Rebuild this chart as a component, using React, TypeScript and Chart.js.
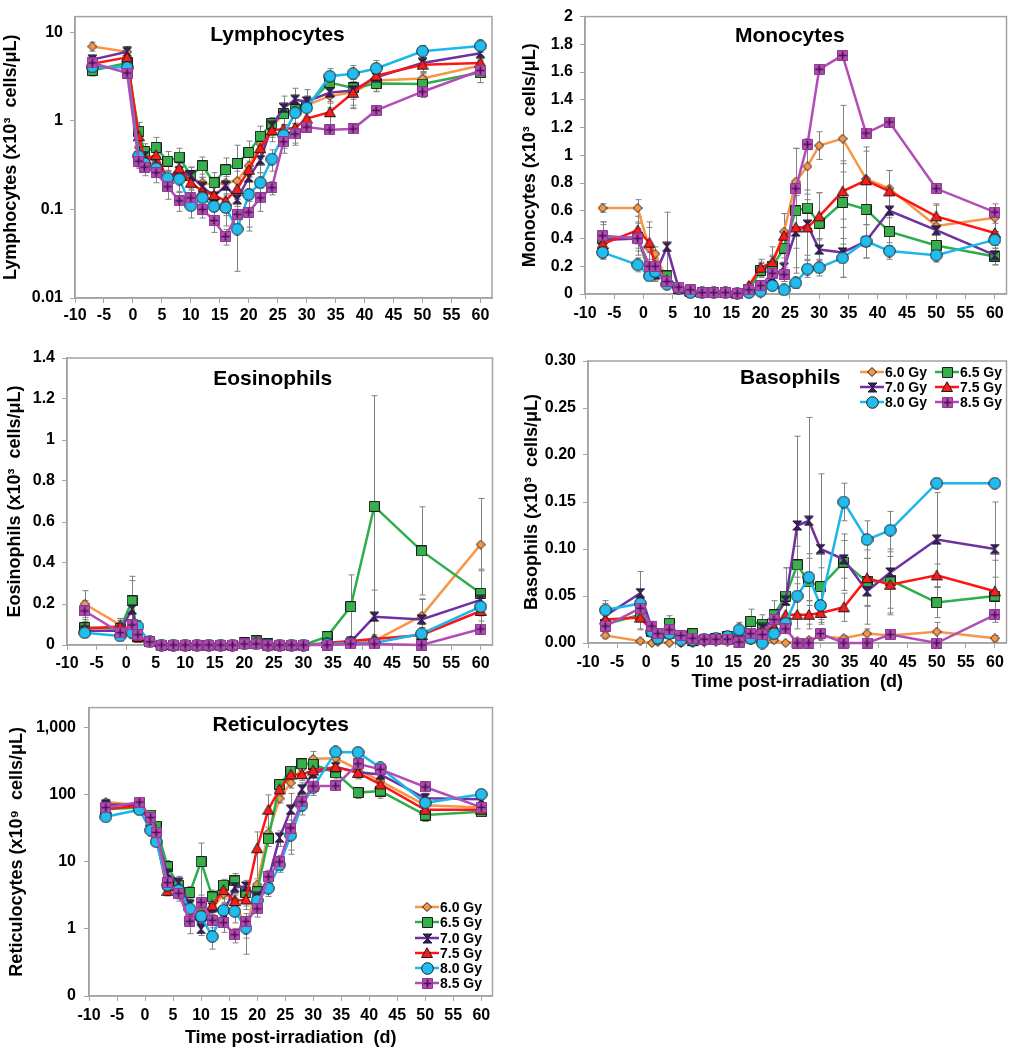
import React, { useEffect, useRef } from 'react';
import { Chart, registerables } from 'chart.js';

Chart.register(...registerables);

const FONT = '"Liberation Sans", Arial, Helvetica, sans-serif';
const GRAY = '#a3a3a3';

const DAYS = [-7, -1, 1, 2, 4, 6, 8, 10, 12, 14, 16, 18, 20, 22, 24, 26, 28, 30, 34, 38, 42, 50, 60];
const X_TICKS = [-10, -5, 0, 5, 10, 15, 20, 25, 30, 35, 40, 45, 50, 55, 60];
const DOSES = ['6.0 Gy', '6.5 Gy', '7.0 Gy', '7.5 Gy', '8.0 Gy', '8.5 Gy'];
const LINE_COLORS = ['#F79646', '#2EAD4B', '#7030A0', '#FF1414', '#1BB6EA', '#B24CB6'];
const MARKER_FILLS = ['#F79646', '#37B04C', '#3E1B70', '#FF1A1A', '#22BCEE', '#B24DB4'];
const MARKER_KINDS = ['diamond', 'square', 'bowtie', 'triangle', 'circle', 'plussq'];

// ---- Lymphocytes (x10^3 cells/uL)
const LYMPH_60 = [6.9, 6.0, 0.5, 0.42, 0.33, 0.21, 0.26, 0.22, 0.2, 0.19, 0.2, 0.21, 0.31, 0.55, 0.85, 1.2, 1.3, 1.5, 1.9, 2.1, 2.85, 3.0, 4.2];
const LYMPH_65 = [3.7, 4.5, 0.76, 0.45, 0.5, 0.35, 0.39, 0.24, 0.31, 0.2, 0.28, 0.33, 0.44, 0.67, 0.93, 1.2, 1.34, 1.5, 2.7, 2.35, 2.63, 2.6, 3.5];
const LYMPH_70 = [4.9, 6.0, 0.4, 0.4, 0.35, 0.22, 0.27, 0.24, 0.18, 0.14, 0.186, 0.13, 0.23, 0.36, 0.88, 1.4, 1.73, 1.65, 2.08, 2.2, 3.1, 4.5, 5.8];
const LYMPH_75 = [4.4, 5.2, 0.67, 0.37, 0.41, 0.22, 0.29, 0.2, 0.16, 0.145, 0.125, 0.17, 0.28, 0.49, 0.78, 0.81, 0.83, 1.06, 1.25, 2.07, 3.24, 4.3, 4.5];
const LYMPH_80 = [4.06, 4.0, 0.4, 0.33, 0.29, 0.226, 0.22, 0.11, 0.135, 0.108, 0.105, 0.06, 0.147, 0.2, 0.37, 0.69, 1.23, 1.4, 3.18, 3.4, 3.9, 6.1, 7.0];
const LYMPH_85 = [4.5, 3.46, 0.35, 0.3, 0.26, 0.18, 0.125, 0.135, 0.1, 0.075, 0.0495, 0.088, 0.093, 0.135, 0.176, 0.58, 0.71, 0.85, 0.79, 0.81, 1.31, 2.13, 3.7];
const LYMPH_60_ERR = [0.8, 0.9, 0.1, 0.08, 0.06, 0.04, 0.05, 0.05, 0.05, 0.04, 0.05, 0.06, 0.08, 0.15, 0.2, 0.3, 0.4, 0.4, 0.5, 0.6, 0.7, 0.6, 0.8];
const LYMPH_65_ERR = [0.5, 0.8, 0.2, 0.1, 0.15, 0.1, 0.1, 0.06, 0.08, 0.06, 0.1, 0.2, 0.15, 0.2, 0.15, 0.3, 0.4, 0.4, 0.6, 0.6, 0.5, 0.6, 0.8];
const LYMPH_70_ERR = [0.6, 0.8, 0.1, 0.08, 0.08, 0.05, 0.06, 0.06, 0.05, 0.04, 0.05, 0.04, 0.06, 0.1, 0.2, 0.5, 0.6, 0.6, 0.5, 0.8, 0.8, 1.0, 1.0];
const LYMPH_75_ERR = [0.6, 0.7, 0.15, 0.07, 0.1, 0.05, 0.07, 0.05, 0.04, 0.04, 0.04, 0.04, 0.07, 0.12, 0.2, 0.25, 0.3, 0.3, 0.4, 0.7, 0.8, 0.9, 1.0];
const LYMPH_80_ERR = [0.5, 0.6, 0.08, 0.06, 0.06, 0.05, 0.06, 0.03, 0.04, 0.03, 0.04, 0.04, 0.09, 0.06, 0.1, 0.2, 0.3, 0.4, 0.7, 0.8, 0.9, 1.0, 1.1];
const LYMPH_85_ERR = [0.8, 0.4, 0.06, 0.06, 0.06, 0.05, 0.03, 0.03, 0.02, 0.02, 0.01, 0.02, 0.03, 0.04, 0.03, 0.15, 0.15, 0, 0, 0, 0, 0.3, 1.0];

// ---- Monocytes (x10^3 cells/uL)
const MONO_60 = [0.62, 0.62, 0.33, 0.29, 0.1, 0.03, 0.02, 0.01, 0.01, 0.01, 0.005, 0.03, 0.18, 0.22, 0.45, 0.81, 0.92, 1.07, 1.12, 0.83, 0.76, 0.49, 0.55];
const MONO_65 = [0.4, 0.41, 0.15, 0.15, 0.13, 0.04, 0.02, 0.01, 0.01, 0.01, 0.005, 0.03, 0.17, 0.2, 0.33, 0.6, 0.62, 0.51, 0.66, 0.61, 0.45, 0.35, 0.27];
const MONO_70 = [0.39, 0.4, 0.2, 0.14, 0.34, 0.04, 0.02, 0.01, 0.01, 0.01, 0.005, 0.02, 0.04, 0.12, 0.19, 0.45, 0.5, 0.32, 0.3, 0.38, 0.6, 0.46, 0.28];
const MONO_75 = [0.36, 0.46, 0.37, 0.2, 0.1, 0.04, 0.02, 0.01, 0.01, 0.01, 0.005, 0.06, 0.19, 0.23, 0.42, 0.48, 0.48, 0.56, 0.74, 0.82, 0.74, 0.56, 0.44];
const MONO_80 = [0.3, 0.21, 0.13, 0.16, 0.07, 0.04, 0.01, 0.01, 0.01, 0.01, 0.005, 0.01, 0.02, 0.06, 0.03, 0.08, 0.18, 0.19, 0.26, 0.38, 0.31, 0.28, 0.39];
const MONO_85 = [0.42, 0.4, 0.2, 0.2, 0.09, 0.05, 0.03, 0.01, 0.01, 0.01, 0.005, 0.03, 0.06, 0.15, 0.14, 0.76, 1.08, 1.62, 1.72, 1.16, 1.24, 0.76, 0.59];
const MONO_60_ERR = [0.03, 0.06, 0.15, 0.05, 0.03, 0.01, 0.01, 0, 0, 0, 0, 0.01, 0.05, 0.05, 0.13, 0.24, 0.2, 0.1, 0.24, 0.2, 0.13, 0.15, 0.1];
const MONO_65_ERR = [0.1, 0.1, 0.05, 0.05, 0.03, 0.01, 0.01, 0, 0, 0, 0, 0.01, 0.05, 0.08, 0.1, 0.45, 0.42, 0.22, 0.3, 0.2, 0.1, 0.1, 0.06];
const MONO_70_ERR = [0.13, 0.12, 0.1, 0.05, 0.25, 0.01, 0.01, 0, 0, 0, 0, 0.01, 0.02, 0.05, 0.1, 0.26, 0.25, 0.08, 0.18, 0.12, 0.15, 0.1, 0.07];
const MONO_75_ERR = [0.06, 0.1, 0.15, 0.05, 0.03, 0.01, 0.01, 0, 0, 0, 0, 0.02, 0.06, 0.11, 0.16, 0.15, 0.2, 0.17, 0.2, 0.24, 0.15, 0.09, 0.07];
const MONO_80_ERR = [0.05, 0.05, 0.03, 0.03, 0.02, 0.01, 0.005, 0, 0, 0, 0, 0.005, 0.01, 0.02, 0.01, 0.04, 0.06, 0.06, 0.14, 0.12, 0.06, 0.05, 0.06];
const MONO_85_ERR = [0.1, 0.07, 0.05, 0.06, 0.03, 0.01, 0.01, 0, 0, 0, 0, 0.01, 0.02, 0.05, 0.05, 0, 0, 0, 0, 0, 0, 0, 0.03];

// ---- Eosinophils (x10^3 cells/uL)
const EOS_60 = [0.2, 0.098, 0.07, 0.04, 0.015, 0, 0, 0, 0, 0, 0, 0, 0.005, 0.005, 0, 0, 0, 0, 0.005, 0.01, 0.02, 0.142, 0.49];
const EOS_65 = [0.085, 0.08, 0.215, 0.04, 0.015, 0, 0, 0, 0, 0, 0, 0, 0.01, 0.02, 0.005, 0, 0, 0, 0.041, 0.187, 0.676, 0.459, 0.252];
const EOS_70 = [0.07, 0.07, 0.174, 0.035, 0.015, 0, 0, 0, 0, 0, 0, 0, 0.01, 0.005, 0, 0, 0, 0, 0.005, 0.015, 0.138, 0.125, 0.22];
const EOS_75 = [0.081, 0.09, 0.08, 0.04, 0.015, 0, 0, 0, 0, 0, 0, 0, 0.005, 0.005, 0, 0, 0, 0, 0.01, 0.02, 0.029, 0.049, 0.166];
const EOS_80 = [0.06, 0.044, 0.06, 0.09, 0.015, 0, 0, 0, 0, 0, 0, 0, 0.005, 0.005, 0, 0, 0, 0, 0.005, 0.01, 0.01, 0.055, 0.187];
const EOS_85 = [0.166, 0.06, 0.098, 0.05, 0.015, 0, 0, 0, 0, 0, 0, 0, 0.005, 0.005, 0, 0, 0, 0, 0, 0.005, 0.005, 0, 0.078];
const EOS_60_ERR = [0.065, 0.03, 0.03, 0.01, 0.005, 0, 0, 0, 0, 0, 0, 0, 0, 0, 0, 0, 0, 0, 0.005, 0.01, 0.02, 0.08, 0.225];
const EOS_65_ERR = [0.04, 0.04, 0.12, 0.02, 0.005, 0, 0, 0, 0, 0, 0, 0, 0.005, 0.01, 0, 0, 0, 0, 0.02, 0.155, 0.54, 0.215, 0.11];
const EOS_70_ERR = [0.03, 0.03, 0.14, 0.02, 0.005, 0, 0, 0, 0, 0, 0, 0, 0.005, 0, 0, 0, 0, 0, 0.005, 0.01, 0.13, 0.1, 0.15];
const EOS_75_ERR = [0.03, 0.04, 0.04, 0.02, 0.005, 0, 0, 0, 0, 0, 0, 0, 0, 0, 0, 0, 0, 0, 0.005, 0.01, 0.02, 0.05, 0.07];
const EOS_80_ERR = [0.02, 0.02, 0.03, 0.03, 0.005, 0, 0, 0, 0, 0, 0, 0, 0, 0, 0, 0, 0, 0, 0, 0.005, 0.01, 0.03, 0.07];
const EOS_85_ERR = [0.05, 0.03, 0.05, 0.02, 0.005, 0, 0, 0, 0, 0, 0, 0, 0, 0, 0, 0, 0, 0, 0, 0, 0, 0, 0.02];

// ---- Basophils (x10^3 cells/uL)
const BASO_60 = [0.008, 0.002, 0.0, 0.001, 0.0, 0.0, 0.0, 0.001, 0.001, 0.001, 0.002, 0.003, 0.003, 0.003, 0.0, 0.002, 0.003, 0.007, 0.005, 0.01, 0.008, 0.012, 0.005];
const BASO_65 = [0.02, 0.03, 0.012, 0.008, 0.021, 0.006, 0.01, 0.004, 0.005, 0.007, 0.008, 0.023, 0.02, 0.03, 0.05, 0.083, 0.065, 0.06, 0.086, 0.065, 0.067, 0.043, 0.05];
const BASO_70 = [0.029, 0.053, 0.015, 0.01, 0.013, 0.006, 0.005, 0.004, 0.005, 0.006, 0.007, 0.01, 0.016, 0.025, 0.045, 0.125, 0.13, 0.1, 0.089, 0.055, 0.075, 0.11, 0.1];
const BASO_75 = [0.025, 0.027, 0.013, 0.008, 0.01, 0.005, 0.002, 0.004, 0.004, 0.004, 0.004, 0.007, 0.013, 0.017, 0.03, 0.03, 0.03, 0.032, 0.038, 0.069, 0.062, 0.072, 0.055];
const BASO_80 = [0.035, 0.042, 0.012, 0.005, 0.01, 0.003, 0.003, 0.004, 0.005, 0.007, 0.014, 0.005, 0.0, 0.01, 0.021, 0.05, 0.07, 0.04, 0.15, 0.11, 0.12, 0.17, 0.17];
const BASO_85 = [0.018, 0.037, 0.018, 0.01, 0.014, 0.008, 0.005, 0.004, 0.004, 0.004, 0.001, 0.01, 0.009, 0.025, 0.015, 0.0, 0.0, 0.01, 0.0, 0.0, 0.009, 0.0, 0.03];
const BASO_60_ERR = [0.003, 0.002, 0.001, 0.001, 0.001, 0.001, 0.001, 0.001, 0.001, 0.001, 0.002, 0.002, 0.002, 0.002, 0.001, 0.002, 0.003, 0.004, 0.003, 0.005, 0.004, 0.01, 0.003];
const BASO_65_ERR = [0.01, 0.015, 0.005, 0.004, 0.008, 0.004, 0.005, 0.002, 0.002, 0.003, 0.004, 0.013, 0.01, 0.015, 0.03, 0.02, 0.025, 0.02, 0.03, 0.025, 0.03, 0.016, 0.02];
const BASO_70_ERR = [0.013, 0.023, 0.008, 0.005, 0.005, 0.004, 0.003, 0.002, 0.002, 0.003, 0.004, 0.005, 0.008, 0.01, 0.035, 0.095, 0.11, 0.08, 0.02, 0.035, 0.045, 0.05, 0.05];
const BASO_75_ERR = [0.008, 0.013, 0.005, 0.004, 0.004, 0.003, 0.002, 0.002, 0.002, 0.002, 0.003, 0.004, 0.006, 0.008, 0.01, 0.015, 0.015, 0.01, 0.015, 0.03, 0.03, 0.012, 0.033];
const BASO_80_ERR = [0.01, 0.015, 0.005, 0.004, 0.004, 0.003, 0.003, 0.002, 0.002, 0.003, 0.008, 0.004, 0.003, 0.005, 0.01, 0.02, 0.025, 0.015, 0.02, 0.02, 0.02, 0, 0];
const BASO_85_ERR = [0.008, 0.012, 0.005, 0.004, 0.005, 0.003, 0.003, 0.002, 0.002, 0.002, 0.001, 0.004, 0.004, 0.008, 0.005, 0, 0, 0, 0, 0, 0, 0, 0.005];

// ---- Reticulocytes (x10^9 cells/uL)
const RETIC_60 = [78, 70, 35, 24, 4.0, 3.8, 1.6, 1.8, 2.0, 3.3, 2.7, 0.98, 4.6, 27, 88, 151, 250, 344, 350, 240, 160, 70, 65];
const RETIC_65 = [61, 65, 50, 34, 8.5, 4.5, 3.5, 10.1, 3.0, 4.5, 5.2, 3.5, 3.6, 22, 143, 225, 290, 286, 213, 108, 114, 50, 56];
const RETIC_70 = [72, 70, 38, 25, 6.6, 4.9, 2.3, 1.0, 2.1, 1.7, 4.2, 4.3, 3.0, 5.5, 23, 60, 121, 210, 260, 218, 201, 89, 86];
const RETIC_75 = [62, 68, 40, 23, 3.7, 4.0, 1.6, 1.6, 2.24, 3.8, 2.6, 2.75, 16, 60, 121, 201, 203, 231, 261, 213, 143, 60, 60];
const RETIC_80 = [47, 60, 29.7, 20, 4.5, 3.8, 2.0, 1.54, 0.77, 1.9, 1.83, 1.03, 2.66, 4.05, 9, 25, 70, 128, 436, 430, 253, 76, 102];
const RETIC_85 = [64.5, 78, 46, 27.5, 4.9, 3.4, 1.3, 2.5, 1.35, 1.24, 0.82, 1.3, 2.0, 6.0, 10, 32, 79, 135, 136, 290, 240, 131, 65];
const RETIC_60_ERR = [8, 8, 5, 4, 0.8, 0.8, 0.5, 0.5, 0.6, 0.8, 0.8, 0.56, 1.0, 6, 12, 25, 40, 100, 60, 50, 30, 15, 10];
const RETIC_65_ERR = [10, 10, 8, 6, 2, 1.2, 0.8, 9, 0.8, 1.0, 1.5, 1.3, 1.0, 5, 25, 40, 50, 60, 40, 20, 25, 10, 8];
const RETIC_70_ERR = [10, 10, 6, 5, 1.2, 1.2, 0.5, 0.2, 0.5, 0.5, 1.0, 1.0, 0.8, 1.5, 6, 45, 30, 50, 50, 40, 35, 15, 12];
const RETIC_75_ERR = [8, 8, 6, 4, 0.6, 1.0, 0.5, 0.4, 0.6, 1.0, 0.8, 0.8, 12, 40, 25, 35, 40, 50, 50, 40, 30, 10, 10];
const RETIC_80_ERR = [6, 8, 5, 3, 1.0, 1.0, 0.5, 0.4, 0.27, 0.5, 0.6, 0.3, 0.6, 1.0, 2, 12, 20, 30, 60, 60, 40, 15, 15];
const RETIC_85_ERR = [8, 10, 6, 4, 1.0, 0.8, 0.45, 0.7, 0.4, 0.35, 0.2, 0.4, 0.5, 1.5, 2.5, 10, 20, 20, 20, 40, 30, 20, 10];

// ---- Y tick values
const LYMPH_TICKS = [0.01, 0.1, 1, 10];
const MONO_TICKS = [0, 0.2, 0.4, 0.6, 0.8, 1, 1.2, 1.4, 1.6, 1.8, 2];
const EOS_TICKS = [0, 0.2, 0.4, 0.6, 0.8, 1, 1.2, 1.4];
const BASO_TICKS = [0, 0.05, 0.1, 0.15, 0.2, 0.25, 0.3];
const RETIC_TICKS = [0.1, 1, 10, 100, 1000];

type LegendItem = { i: number; x: number; y: number };
type Panel = {
  key: string; left: number; top: number; w: number; h: number;
  title: string; titleDx: number; titleDy: number;
  yTitle: string; yType: 'linear' | 'logarithmic'; yMin: number; yMax: number;
  yTicks: number[]; fmt: (v: number) => string;
  series: number[][]; errors: number[][];
  pad: { left: number; top: number; right: number; bottom: number };
  yW: number; xH: number; xPad: number; yPad: number;
  xTitle?: string; xTitlePad?: number;
  legend?: LegendItem[];
};

const plainFmt = (v: number) => String(v);

const PANELS: Panel[] = [
  {
    key: 'lymph', left: 0, top: 0, w: 500, h: 330,
    title: 'Lymphocytes', titleDx: -6, titleDy: 19,
    yTitle: 'Lymphocytes (x10\u00B3  cells/\u03BCL)', yType: 'logarithmic', yMin: 0.01, yMax: 15,
    yTicks: LYMPH_TICKS, fmt: plainFmt,
    series: [LYMPH_60, LYMPH_65, LYMPH_70, LYMPH_75, LYMPH_80, LYMPH_85],
    errors: [LYMPH_60_ERR, LYMPH_65_ERR, LYMPH_70_ERR, LYMPH_75_ERR, LYMPH_80_ERR, LYMPH_85_ERR],
    pad: { left: 0, top: 7, right: 8, bottom: 0 }, yW: 75, xH: 32, xPad: 3, yPad: 7,
  },
  {
    key: 'mono', left: 500, top: 0, w: 514, h: 330,
    title: 'Monocytes', titleDx: -6, titleDy: 20,
    yTitle: 'Monocytes (x10\u00B3  cells/\u03BCL)', yType: 'linear', yMin: 0, yMax: 2,
    yTicks: MONO_TICKS, fmt: plainFmt,
    series: [MONO_60, MONO_65, MONO_70, MONO_75, MONO_80, MONO_85],
    errors: [MONO_60_ERR, MONO_65_ERR, MONO_70_ERR, MONO_75_ERR, MONO_80_ERR, MONO_85_ERR],
    pad: { left: 19, top: 7, right: 6, bottom: 0 }, yW: 66, xH: 36, xPad: 5, yPad: 7,
  },
  {
    key: 'eos', left: 0, top: 330, w: 500, h: 360,
    title: 'Eosinophils', titleDx: -7, titleDy: 21,
    yTitle: 'Eosinophils (x10\u00B3  cells/\u03BCL)', yType: 'linear', yMin: 0, yMax: 1.4,
    yTicks: EOS_TICKS, fmt: plainFmt,
    series: [EOS_60, EOS_65, EOS_70, EOS_75, EOS_80, EOS_85],
    errors: [EOS_60_ERR, EOS_65_ERR, EOS_70_ERR, EOS_75_ERR, EOS_80_ERR, EOS_85_ERR],
    pad: { left: 4, top: 28, right: 7, bottom: 0 }, yW: 63, xH: 45, xPad: 4, yPad: 7,
  },
  {
    key: 'baso', left: 500, top: 330, w: 514, h: 370,
    title: 'Basophils', titleDx: -7, titleDy: 17,
    yTitle: 'Basophils (x10\u00B3  cells/\u03BCL)', yType: 'linear', yMin: 0, yMax: 0.3,
    yTicks: BASO_TICKS, fmt: (v: number) => v.toFixed(2),
    series: [BASO_60, BASO_65, BASO_70, BASO_75, BASO_80, BASO_85],
    errors: [BASO_60_ERR, BASO_65_ERR, BASO_70_ERR, BASO_75_ERR, BASO_80_ERR, BASO_85_ERR],
    pad: { left: 21, top: 31, right: 4, bottom: 0 }, yW: 67, xH: 57, xPad: 5, yPad: 7,
    xTitle: 'Time post-irradiation  (d)', xTitlePad: 7,
    legend: [
      { i: 0, x: 360, y: 42 }, { i: 1, x: 435, y: 42 },
      { i: 2, x: 360, y: 57 }, { i: 3, x: 435, y: 57 },
      { i: 4, x: 360, y: 72 }, { i: 5, x: 435, y: 72 },
    ],
  },
  {
    key: 'retic', left: 0, top: 690, w: 500, h: 360,
    title: 'Reticulocytes', titleDx: -10, titleDy: 18,
    yTitle: 'Reticulocytes (x10\u2079  cells/\u03BCL)', yType: 'logarithmic', yMin: 0.1, yMax: 2000,
    yTicks: RETIC_TICKS, fmt: (v: number) => (v < 1 ? '0' : v.toLocaleString('en-US')),
    series: [RETIC_60, RETIC_65, RETIC_70, RETIC_75, RETIC_80, RETIC_85],
    errors: [RETIC_60_ERR, RETIC_65_ERR, RETIC_70_ERR, RETIC_75_ERR, RETIC_80_ERR, RETIC_85_ERR],
    pad: { left: 6, top: 16, right: 6, bottom: 0 }, yW: 83, xH: 54, xPad: 5, yPad: 8,
    xTitle: 'Time post-irradiation  (d)', xTitlePad: 1,
    legend: [
      { i: 0, x: 415, y: 217 }, { i: 1, x: 415, y: 232 }, { i: 2, x: 415, y: 248 },
      { i: 3, x: 415, y: 263 }, { i: 4, x: 415, y: 278 }, { i: 5, x: 415, y: 293 },
    ],
  },
];

function makeMarker(kind: string, fill: string): HTMLCanvasElement {
  const sizes: Record<string, number> = { diamond: 10, square: 11, bowtie: 11, triangle: 12, circle: 13, plussq: 11 };
  const s = sizes[kind];
  const c = document.createElement('canvas');
  c.width = s;
  c.height = s;
  const g = c.getContext('2d')!;
  const m = s / 2;
  g.fillStyle = fill;
  g.strokeStyle = kind === 'plussq' ? '#8a3a8e' : '#1c1c1c';
  g.lineWidth = 1;
  g.beginPath();
  if (kind === 'diamond') {
    g.moveTo(m, 0.5); g.lineTo(s - 0.5, m); g.lineTo(m, s - 0.5); g.lineTo(0.5, m); g.closePath();
  } else if (kind === 'square' || kind === 'plussq') {
    g.rect(0.5, 0.5, s - 1, s - 1);
  } else if (kind === 'triangle') {
    g.moveTo(m, 0.8); g.lineTo(s - 0.5, s - 1.5); g.lineTo(0.5, s - 1.5); g.closePath();
  } else if (kind === 'circle') {
    g.arc(m, m, m - 0.7, 0, Math.PI * 2);
  } else if (kind === 'bowtie') {
    g.moveTo(1, 1); g.lineTo(s - 1, 1); g.lineTo(1, s - 1); g.lineTo(s - 1, s - 1); g.closePath();
  }
  g.fill();
  g.stroke();
  if (kind === 'plussq') {
    g.strokeStyle = '#4a1050';
    g.lineWidth = 1.6;
    g.beginPath();
    g.moveTo(m, 1.5); g.lineTo(m, s - 1.5);
    g.moveTo(1.5, m); g.lineTo(s - 1.5, m);
    g.stroke();
  }
  return c;
}

function makeDecor(p: Panel, markers: HTMLCanvasElement[]) {
  return {
    id: 'decor_' + p.key,
    beforeDatasetsDraw(chart: any) {
      const { ctx, chartArea: a } = chart;
      const ys = chart.scales.y;
      ctx.save();
      ctx.strokeStyle = GRAY;
      ctx.lineWidth = 1.5;
      ctx.strokeRect(a.left, a.top, a.right - a.left, a.bottom - a.top);
      ctx.strokeStyle = '#808080';
      ctx.lineWidth = 1;
      chart.data.datasets.forEach((ds: any, i: number) => {
        const meta = chart.getDatasetMeta(i);
        const errs: number[] = ds.errorBars || [];
        meta.data.forEach((pt: any, j: number) => {
          const e = errs[j];
          if (!e) return;
          const v = ds.data[j].y;
          const lo = Math.max(v - e, ys.min);
          const hi = Math.min(v + e, ys.max);
          const yTop = ys.getPixelForValue(hi);
          const yBot = ys.getPixelForValue(lo);
          const x = Math.round(pt.x) + 0.5;
          ctx.beginPath();
          ctx.moveTo(x, yTop); ctx.lineTo(x, yBot);
          ctx.moveTo(x - 3, yTop); ctx.lineTo(x + 3, yTop);
          if (v - e > ys.min) { ctx.moveTo(x - 3, yBot); ctx.lineTo(x + 3, yBot); }
          ctx.stroke();
        });
      });
      ctx.restore();
    },
    afterDraw(chart: any) {
      const { ctx, chartArea: a } = chart;
      ctx.save();
      ctx.fillStyle = '#000';
      ctx.font = `bold 21px ${FONT}`;
      ctx.textAlign = 'center';
      ctx.textBaseline = 'middle';
      ctx.fillText(p.title, (a.left + a.right) / 2 + p.titleDx, a.top + p.titleDy);
      if (p.legend) {
        ctx.font = `bold 14px ${FONT}`;
        ctx.textAlign = 'left';
        p.legend.forEach((it) => {
          ctx.strokeStyle = LINE_COLORS[it.i];
          ctx.lineWidth = 2.5;
          ctx.beginPath();
          ctx.moveTo(it.x, it.y);
          ctx.lineTo(it.x + 24, it.y);
          ctx.stroke();
          const mk = markers[it.i];
          ctx.drawImage(mk, Math.round(it.x + 12 - mk.width / 2), Math.round(it.y - mk.height / 2));
          ctx.fillStyle = '#000';
          ctx.fillText(DOSES[it.i], it.x + 25, it.y + 1);
        });
      }
      ctx.restore();
    },
  };
}

function buildConfig(p: Panel, markers: HTMLCanvasElement[]): any {
  const tickFont = { family: FONT, size: 16, weight: 'bold' as const };
  const datasets = p.series.map((vals, i) => ({
    label: DOSES[i],
    data: DAYS.map((d, j) => ({ x: d, y: vals[j] })),
    errorBars: p.errors[i],
    borderColor: LINE_COLORS[i],
    backgroundColor: LINE_COLORS[i],
    borderWidth: 2.5,
    pointStyle: markers[i],
    pointRadius: 5,
    pointHoverRadius: 5,
    tension: 0,
    clip: false,
    order: 6 - i,
  }));
  const grid = { display: true, drawOnChartArea: false, drawTicks: true, tickLength: 5, color: GRAY, lineWidth: 1 };
  const border = { display: true, color: GRAY, width: 1.5 };
  return {
    type: 'line',
    data: { datasets },
    options: {
      responsive: false,
      animation: false,
      events: [],
      layout: { padding: p.pad },
      plugins: { legend: { display: false }, tooltip: { enabled: false }, title: { display: false } },
      scales: {
        x: {
          type: 'linear', min: -10, max: 62,
          afterBuildTicks: (s: any) => { s.ticks = X_TICKS.map((v) => ({ value: v })); },
          afterFit: (s: any) => { s.height = p.xH; },
          ticks: { font: tickFont, color: '#000', padding: p.xPad, maxRotation: 0, autoSkip: false, callback: (v: any) => String(v) },
          grid, border,
          title: p.xTitle
            ? { display: true, text: p.xTitle, font: { family: FONT, size: 18, weight: 'bold' }, color: '#000', padding: { top: 0, bottom: p.xTitlePad } }
            : { display: false },
        },
        y: {
          type: p.yType, min: p.yMin, max: p.yMax,
          afterBuildTicks: (s: any) => { s.ticks = p.yTicks.map((v) => ({ value: v })); },
          afterFit: (s: any) => { s.width = p.yW; },
          ticks: { font: tickFont, color: '#000', padding: p.yPad, autoSkip: false, callback: (v: any) => p.fmt(Number(v)) },
          grid, border,
          title: { display: true, text: p.yTitle, font: { family: FONT, size: 18, weight: 'bold' }, color: '#000', padding: { top: 0, bottom: 0 } },
        },
      },
    },
    plugins: [makeDecor(p, markers)],
  };
}

export default function App() {
  const refs = useRef<(HTMLCanvasElement | null)[]>([]);
  useEffect(() => {
    document.body.style.margin = '0';
    const markers = MARKER_KINDS.map((k, i) => makeMarker(k, MARKER_FILLS[i]));
    const charts = PANELS.map((p, idx) => new Chart(refs.current[idx] as HTMLCanvasElement, buildConfig(p, markers)));
    return () => charts.forEach((c) => c.destroy());
  }, []);
  return (
    <div style={{ position: 'relative', width: 1014, height: 1050, background: '#fff', overflow: 'hidden' }}>
      {PANELS.map((p, i) => (
        <canvas
          key={p.key}
          ref={(el) => { refs.current[i] = el; }}
          width={p.w}
          height={p.h}
          style={{ position: 'absolute', left: p.left, top: p.top, width: p.w, height: p.h }}
        />
      ))}
    </div>
  );
}
